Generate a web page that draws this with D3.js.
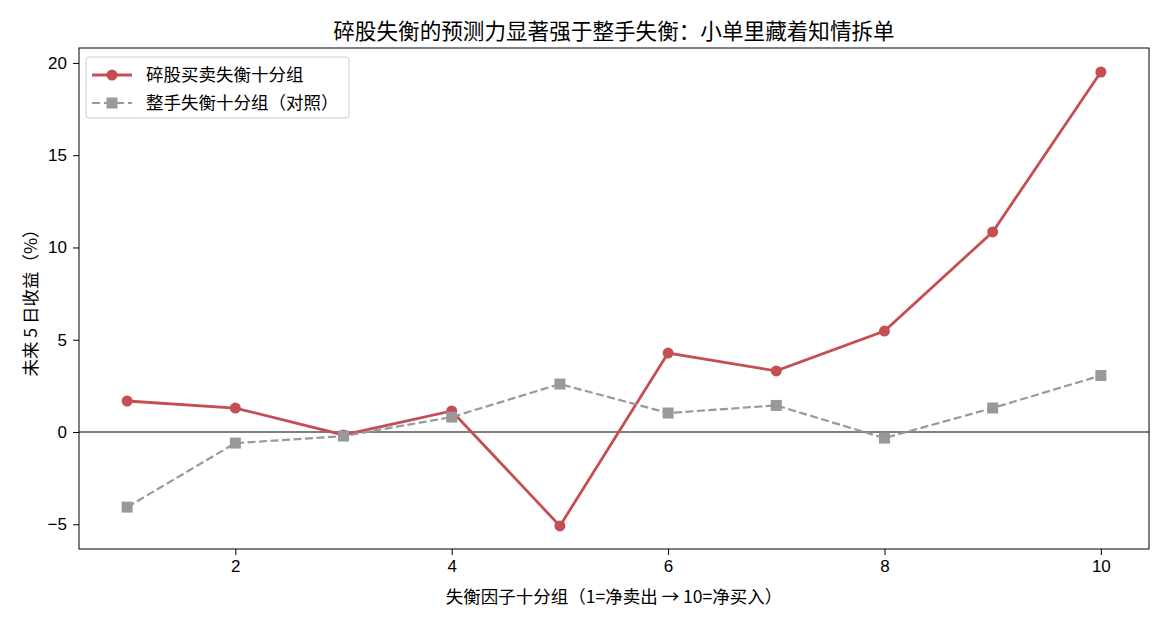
<!DOCTYPE html>
<html>
<head>
<meta charset="utf-8">
<script src="https://cdn.jsdelivr.net/npm/d3@7"></script>
<style>
  body { margin: 0; background: #fff; }
  svg { display: block; font-family: "Noto Sans CJK SC", "Noto Sans", sans-serif; }
</style>
</head>
<body>
<div id="viz"></div>
<script>
// decile groups and 5-day forward returns (%)
const deciles = [1, 2, 3, 4, 5, 6, 7, 8, 9, 10];
const oddLotReturns = [1.68, 1.30, -0.16, 1.14, -5.09, 4.28, 3.31, 5.47, 10.84, 19.51];
const roundLotReturns = [-4.07, -0.60, -0.22, 0.81, 2.60, 1.03, 1.44, -0.33, 1.30, 3.06];
const xTicks = [2, 4, 6, 8, 10];
const yTicks = [-5, 0, 5, 10, 15, 20];

const WIDTH = 1170, HEIGHT = 624;
const margin = { top: 48, right: 21, bottom: 75, left: 79 };
const COLORS = { odd: "#c44e52", round: "#999999", axis: "#000" };

const svg = d3.select("#viz").append("svg")
  .attr("width", WIDTH)
  .attr("height", HEIGHT);

const x = d3.scaleLinear().domain([0.555, 10.445]).range([margin.left, WIDTH - margin.right]);
const y = d3.scaleLinear().domain([-6.34, 20.81]).range([HEIGHT - margin.bottom, margin.top]);

// title
svg.append("text")
  .attr("x", (margin.left + WIDTH - margin.right) / 2)
  .attr("y", 39)
  .attr("text-anchor", "middle")
  .style("font-size", "21.6px")
  .text("碎股失衡的预测力显著强于整手失衡：小单里藏着知情拆单");

// axes
const xAxis = svg.append("g")
  .attr("transform", `translate(0,${HEIGHT - margin.bottom})`)
  .call(d3.axisBottom(x).tickValues(xTicks).tickSize(6).tickPadding(5).tickSizeOuter(0));
const yAxis = svg.append("g")
  .attr("transform", `translate(${margin.left},0)`)
  .call(d3.axisLeft(y).tickValues(yTicks).tickSize(6).tickPadding(6).tickSizeOuter(0)
    .tickFormat(d => d < 0 ? "\u2212" + Math.abs(d) : d));
[xAxis, yAxis].forEach(a => {
  a.selectAll("text").style("font-size", "17px").attr("fill", "#000");
  a.select(".domain").remove();
});

// frame
svg.append("rect")
  .attr("x", margin.left)
  .attr("y", margin.top)
  .attr("width", WIDTH - margin.left - margin.right)
  .attr("height", HEIGHT - margin.top - margin.bottom)
  .attr("fill", "none")
  .attr("stroke", COLORS.axis)
  .attr("stroke-width", 1);

// axis labels
svg.append("text")
  .attr("x", (margin.left + WIDTH - margin.right) / 2)
  .attr("y", 603)
  .attr("text-anchor", "middle")
  .style("font-size", "17.5px")
  .text("失衡因子十分组（1=净卖出 → 10=净买入）");

svg.append("text")
  .attr("transform", `translate(37,${(margin.top + HEIGHT - margin.bottom) / 2}) rotate(-90)`)
  .attr("text-anchor", "middle")
  .style("font-size", "17.5px")
  .text("未来 5 日收益（%）");

// zero line
svg.append("line")
  .attr("x1", margin.left).attr("x2", WIDTH - margin.right)
  .attr("y1", y(0)).attr("y2", y(0))
  .attr("stroke", COLORS.axis)
  .attr("stroke-width", 1);

const line = d3.line().x(d => x(d[0])).y(d => y(d[1]));
const oddPts = deciles.map((d, i) => [d, oddLotReturns[i]]);
const roundPts = deciles.map((d, i) => [d, roundLotReturns[i]]);

// odd-lot series
svg.append("path")
  .datum(oddPts)
  .attr("d", line)
  .attr("fill", "none")
  .attr("stroke", COLORS.odd)
  .attr("stroke-width", 2.8);
svg.append("g").selectAll("circle")
  .data(oddPts)
  .join("circle")
  .attr("cx", d => x(d[0]))
  .attr("cy", d => y(d[1]))
  .attr("r", 5.5)
  .attr("fill", COLORS.odd);

// round-lot series (control)
svg.append("path")
  .datum(roundPts)
  .attr("d", line)
  .attr("fill", "none")
  .attr("stroke", COLORS.round)
  .attr("stroke-width", 2.2)
  .attr("stroke-dasharray", "8,3.5");
svg.append("g").selectAll("rect")
  .data(roundPts)
  .join("rect")
  .attr("x", d => x(d[0]) - 5.5)
  .attr("y", d => y(d[1]) - 5.5)
  .attr("width", 11)
  .attr("height", 11)
  .attr("fill", COLORS.round);

// legend
const legend = svg.append("g").attr("transform", `translate(86,57)`);
legend.append("rect")
  .attr("width", 263).attr("height", 61).attr("rx", 3)
  .attr("fill", "#fff").attr("fill-opacity", 0.8)
  .attr("stroke", "#ccc");
const items = [
  { label: "碎股买卖失衡十分组", color: COLORS.odd, dash: null, shape: "circle", w: 2.8 },
  { label: "整手失衡十分组（对照）", color: COLORS.round, dash: "8,4", shape: "square", w: 2.2 }
];
items.forEach((it, i) => {
  const g = legend.append("g").attr("transform", `translate(0,${18 + i * 28})`);
  g.append("line")
    .attr("x1", 6).attr("x2", 46)
    .attr("stroke", it.color)
    .attr("stroke-width", it.w)
    .attr("stroke-dasharray", it.dash);
  if (it.shape === "circle") {
    g.append("circle").attr("cx", 26).attr("r", 5.5).attr("fill", it.color);
  } else {
    g.append("rect").attr("x", 20.5).attr("y", -5.5).attr("width", 11).attr("height", 11).attr("fill", it.color);
  }
  g.append("text")
    .attr("x", 60)
    .attr("dy", "0.35em")
    .style("font-size", "17.5px")
    .text(it.label);
});
</script>
</body>
</html>
